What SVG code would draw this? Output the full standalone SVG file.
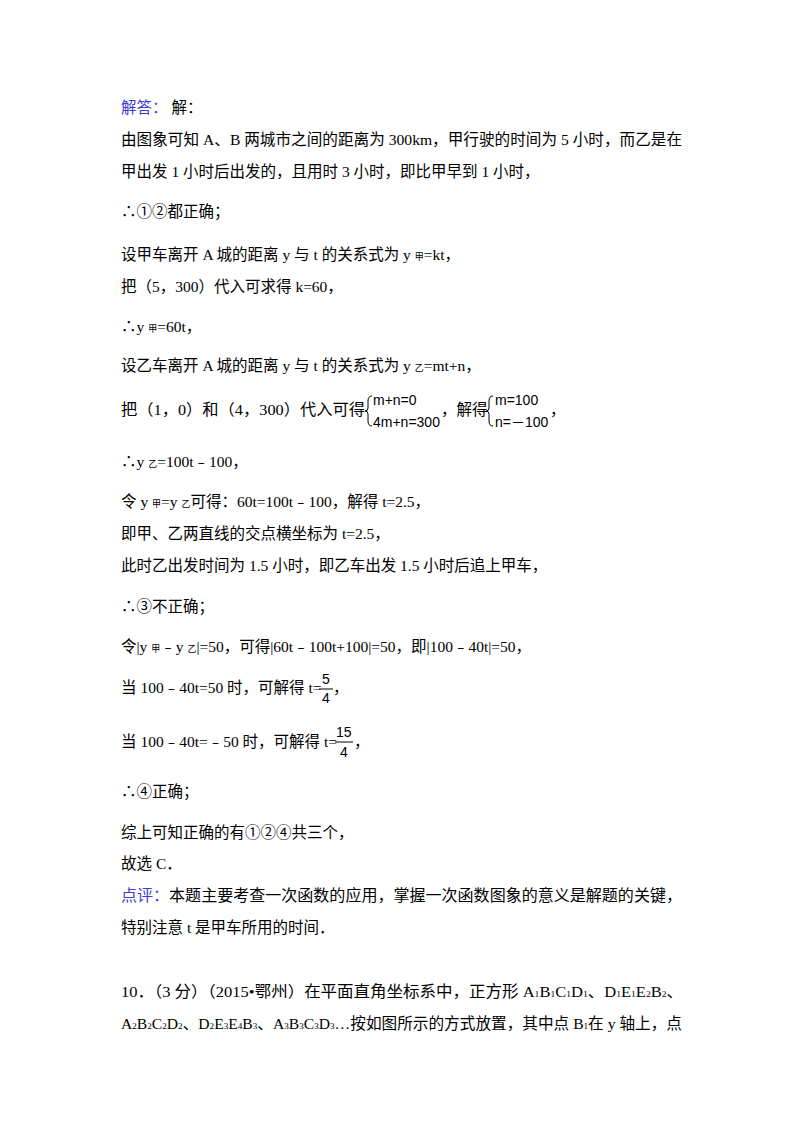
<svg xmlns="http://www.w3.org/2000/svg" width="800" height="1132" viewBox="0 0 800 1132">
<style>
text{font-family:"Liberation Serif","Noto Sans CJK SC",serif;font-size:15.5px;fill:#000}
.b{fill:#3b3bd9}
.s{font-size:9px}
.m{font-family:"Liberation Sans","Noto Sans CJK SC",sans-serif;font-size:14px}
.br{fill:none;stroke:#000;stroke-width:1}
</style>
<rect width="800" height="1132" fill="#fff"/>
<g id="text">
<text x="121" y="113"><tspan class="b">解答：</tspan> 解：</text>
<text x="121" y="145" textLength="561" lengthAdjust="spacingAndGlyphs">由图象可知 A、B 两城市之间的距离为 300km，甲行驶的时间为 5 小时，而乙是在</text>
<text x="121" y="177">甲出发 1 小时后出发的，且用时 3 小时，即比甲早到 1 小时，</text>
<text x="121" y="217">∴①②都正确；</text>
<text x="121" y="260">设甲车离开 A 城的距离 y 与 t 的关系式为 y <tspan class="s">甲</tspan>=kt，</text>
<text x="121" y="292">把（5，300）代入可求得 k=60，</text>
<text x="121" y="332">∴y <tspan class="s">甲</tspan>=60t，</text>
<text x="121" y="371">设乙车离开 A 城的距离 y 与 t 的关系式为 y <tspan class="s">乙</tspan>=mt+n，</text>
<text x="121" y="415" textLength="244" lengthAdjust="spacingAndGlyphs">把（1，0）和（4，300）代入可得</text>
<path class="br" d="M372 396 q-4 0 -4 5 v7 q0 3 -3 3 q3 0 3 3 v7 q0 5 4 5"/>
<text class="m" x="373" y="405">m+n=0</text>
<text class="m" x="373" y="427">4m+n=300</text>
<text x="441" y="415">，解得</text>
<path class="br" d="M493 396 q-4 0 -4 5 v7 q0 3 -3 3 q3 0 3 3 v7 q0 5 4 5"/>
<text class="m" x="495" y="405">m=100</text>
<text class="m" x="495" y="427">n=－100</text>
<text x="550" y="415">，</text>
<text x="121" y="467">∴y <tspan class="s">乙</tspan>=100t﹣100，</text>
<text x="121" y="507">令 y <tspan class="s">甲</tspan>=y <tspan class="s">乙</tspan>可得：60t=100t﹣100，解得 t=2.5，</text>
<text x="121" y="539">即甲、乙两直线的交点横坐标为 t=2.5，</text>
<text x="121" y="571">此时乙出发时间为 1.5 小时，即乙车出发 1.5 小时后追上甲车，</text>
<text x="121" y="612">∴③不正确；</text>
<text x="121" y="652">令|y <tspan class="s">甲</tspan>﹣y <tspan class="s">乙</tspan>|=50，可得|60t﹣100t+100|=50，即|100﹣40t|=50，</text>
<text x="121" y="693">当 100﹣40t=50 时，可解得 t=</text>
<text class="m" x="322" y="684">5</text>
<line x1="319" y1="689" x2="333" y2="689" stroke="#000"/>
<text class="m" x="322" y="703">4</text>
<text x="333" y="693">，</text>
<text x="121" y="747">当 100﹣40t=﹣50 时，可解得 t=</text>
<text class="m" x="336" y="737">15</text>
<line x1="335" y1="742" x2="353" y2="742" stroke="#000"/>
<text class="m" x="340" y="757">4</text>
<text x="354" y="747">，</text>
<text x="121" y="797">∴④正确；</text>
<text x="121" y="838">综上可知正确的有①②④共三个，</text>
<text x="121" y="869">故选 C．</text>
<text x="121" y="901" textLength="561" lengthAdjust="spacingAndGlyphs"><tspan class="b">点评：</tspan>本题主要考查一次函数的应用，掌握一次函数图象的意义是解题的关键，</text>
<text x="121" y="933">特别注意 t 是甲车所用的时间．</text>
<text x="121" y="997" textLength="562" lengthAdjust="spacingAndGlyphs">10．（3 分）（2015•鄂州）在平面直角坐标系中，正方形 A<tspan class="s">1</tspan>B<tspan class="s">1</tspan>C<tspan class="s">1</tspan>D<tspan class="s">1</tspan>、D<tspan class="s">1</tspan>E<tspan class="s">1</tspan>E<tspan class="s">2</tspan>B<tspan class="s">2</tspan>、</text>
<text x="121" y="1029" textLength="561" lengthAdjust="spacingAndGlyphs">A<tspan class="s">2</tspan>B<tspan class="s">2</tspan>C<tspan class="s">2</tspan>D<tspan class="s">2</tspan>、D<tspan class="s">2</tspan>E<tspan class="s">3</tspan>E<tspan class="s">4</tspan>B<tspan class="s">3</tspan>、A<tspan class="s">3</tspan>B<tspan class="s">3</tspan>C<tspan class="s">3</tspan>D<tspan class="s">3</tspan>…按如图所示的方式放置，其中点 B<tspan class="s">1</tspan>在 y 轴上，点</text>
</g>
</svg>
